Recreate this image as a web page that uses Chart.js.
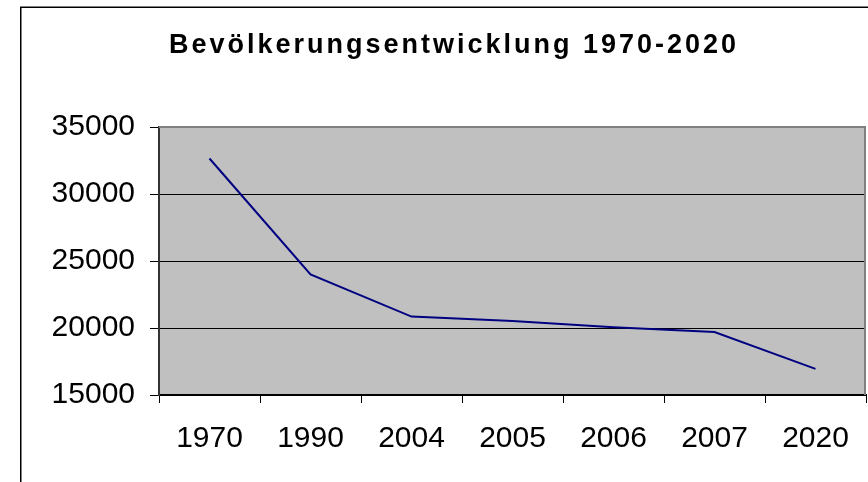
<!DOCTYPE html>
<html>
<head>
<meta charset="utf-8">
<script src="https://cdn.jsdelivr.net/npm/chart.js@4"></script>
<style>
  html, body { margin: 0; padding: 0; background: #fff; }
  #wrap { width: 868px; height: 482px; }
</style>
</head>
<body>
<div id="wrap"><canvas id="myChart" width="868" height="482"></canvas></div>
<script>
// chart data
const chartTitle = 'Bevölkerungsentwicklung 1970-2020'
const years = ['1970', '1990', '2004', '2005', '2006', '2007', '2020']
const population = [32650, 24000, 20850, 20520, 20050, 19700, 16950]
const yTicks = [15000, 20000, 25000, 30000, 35000]

// plot background, grey frame, outer box and title
const excelLook = {
    id: 'excelLook',
    beforeDraw(chart) {
        const { ctx, chartArea: a } = chart
        ctx.save()
        ctx.fillStyle = '#c0c0c0'
        ctx.fillRect(a.left, a.top, a.right - a.left, a.bottom - a.top)
        ctx.restore()
    },
    beforeDatasetsDraw(chart) {
        const { ctx, chartArea: a } = chart
        ctx.save()
        ctx.strokeStyle = '#808080'
        ctx.lineWidth = 2
        ctx.beginPath()
        ctx.moveTo(a.left, a.top)
        ctx.lineTo(a.right - 1, a.top)
        ctx.lineTo(a.right - 1, a.bottom)
        ctx.stroke()
        ctx.restore()
    },
    afterDraw(chart) {
        const ctx = chart.ctx
        ctx.save()
        ctx.strokeStyle = '#000'
        ctx.lineWidth = 1.5
        ctx.beginPath()
        ctx.moveTo(20.75, 482)
        ctx.lineTo(20.75, 7.25)
        ctx.lineTo(868, 7.25)
        ctx.stroke()
        ctx.fillStyle = '#000'
        ctx.font = 'bold 27px "Liberation Sans", Arial, sans-serif'
        ctx.textAlign = 'center'
        ctx.textBaseline = 'alphabetic'
        ctx.letterSpacing = '3px'
        ctx.fillText(chartTitle, 454, 53)
        ctx.restore()
    }
}

Chart.defaults.font.family = '"Liberation Sans", Arial, sans-serif'
Chart.defaults.color = '#000'

new Chart(document.getElementById('myChart'), {
    type: 'line',
    data: {
        labels: years,
        datasets: [{
            label: 'Bevölkerung',
            data: population,
            borderColor: '#000080',
            borderWidth: 2,
            pointRadius: 0,
            tension: 0
        }]
    },
    options: {
        responsive: false,
        animation: false,
        layout: { padding: { top: 127, right: 2, left: 0, bottom: 0 } },
        plugins: {
            legend: { display: false },
            title: { display: false },
            tooltip: { enabled: false }
        },
        scales: {
            x: {
                offset: true,
                grid: {
                    offset: true,
                    drawOnChartArea: false,
                    tickLength: 8,
                    color: '#000',
                    lineWidth: 1
                },
                border: { color: '#000', width: 2 },
                ticks: { font: { size: 30 }, padding: 18, maxRotation: 0 },
                afterFit(scale) { scale.height = 87 }
            },
            y: {
                min: 15000,
                max: 35000,
                afterBuildTicks(scale) { scale.ticks = yTicks.map(v => ({ value: v })) },
                grid: {
                    tickLength: 9,
                    color: '#000',
                    lineWidth: 1
                },
                border: { color: '#333', width: 2 },
                ticks: {
                    font: { size: 30 },
                    padding: 15,
                    callback: v => String(v)
                },
                afterFit(scale) { scale.width = 159 }
            }
        }
    },
    plugins: [excelLook]
})
</script>
</body>
</html>
